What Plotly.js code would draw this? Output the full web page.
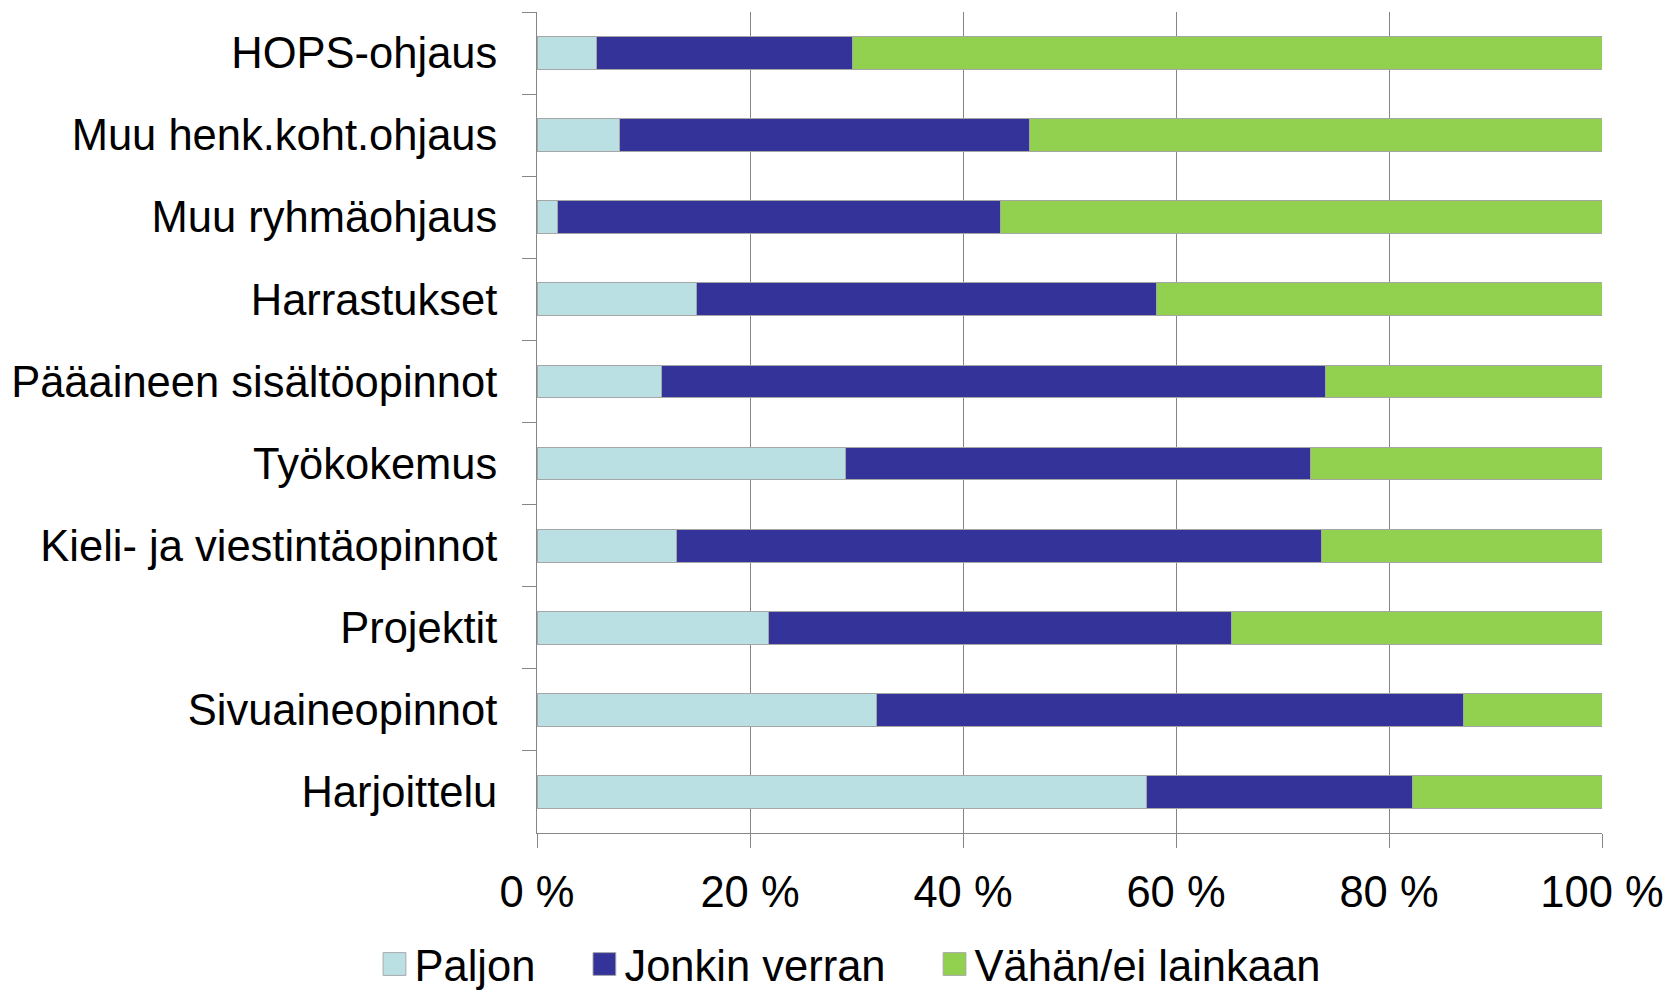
<!DOCTYPE html>
<html>
<head>
<meta charset="utf-8">
<script src="https://cdn.plot.ly/plotly-3.0.1.min.js"></script>
<style>html,body{margin:0;padding:0;background:#fff;}#chart{width:1668px;height:991px;}</style>
</head>
<body>
<div id="chart"></div>
<script>
const categories = ["HOPS-ohjaus","Muu henk.koht.ohjaus","Muu ryhmäohjaus","Harrastukset","Pääaineen sisältöopinnot","Työkokemus","Kieli- ja viestintäopinnot","Projektit","Sivuaineopinnot","Harjoittelu"];
const paljon = [5.6, 7.7, 1.9, 15.0, 11.7, 29.0, 13.1, 21.7, 31.9, 57.2];
const jonkinVerran = [24.0, 38.5, 41.6, 43.2, 62.3, 43.6, 60.6, 43.5, 55.1, 25.0];
const vahanEiLainkaan = [70.4, 53.8, 56.5, 41.8, 26.0, 27.4, 26.3, 34.8, 13.0, 17.8];
const seriesNames = ["Paljon","Jonkin verran","Vähän/ei lainkaan"];
const xTickVals = [0,20,40,60,80,100];
const xTickText = ["0 %","20 %","40 %","60 %","80 %","100 %"];

const colors = ["#bae0e3","#343399","#92d050"];
const vals = [paljon, jonkinVerran, vahanEiLainkaan];
const traces = vals.map((v,i)=>({
  type:"bar", orientation:"h", name:seriesNames[i], x:v, y:categories,
  marker:{color:colors[i], line:{color:"#a6a6a6", width:1}},
  hoverinfo:"x+y+name"
}));
const font = {family:"Liberation Sans, Arial, sans-serif", size:43.5, color:"#000"};
const layout = {
  width:1668, height:991,
  margin:{l:537, r:66, t:12, b:158},
  barmode:"stack", bargap:0.6,
  paper_bgcolor:"#fff", plot_bgcolor:"#fff",
  font:font,
  xaxis:{range:[0,100], tickvals:xTickVals, ticktext:xTickText, showgrid:true, gridcolor:"#868686", gridwidth:1,
    zeroline:false, showline:true, linecolor:"#868686", linewidth:1, ticks:"outside", ticklen:14, tickcolor:"#868686",
    tickfont:font, ticklabelstandoff:7, fixedrange:true},
  yaxis:{type:"category", autorange:"reversed", showgrid:false, zeroline:false, showline:true, linecolor:"#868686", linewidth:1,
    ticks:"outside", tickson:"boundaries", ticklen:14, tickcolor:"#868686", tickfont:font, ticklabelstandoff:30, fixedrange:true},
  legend:{orientation:"h", xref:"container", yref:"container", x:0.2245, xanchor:"left", y:0.027, yanchor:"middle",
    font:font, traceorder:"normal", bgcolor:"rgba(0,0,0,0)"},
  showlegend:true
};
Plotly.newPlot("chart", traces, layout, {displayModeBar:false, staticPlot:true}).then(gd=>{
  // enlarge legend swatches and widen spacing between legend entries
  gd.querySelectorAll('.legend .legendpoints path').forEach(p=>{
    const t = p.getAttribute('transform') || '';
    p.setAttribute('transform', t + ' scale(1.9)');
    p.style.strokeWidth = '0.5px';
  });
  gd.querySelectorAll('.legend .scrollbox').forEach(s=>s.removeAttribute('clip-path'));
  gd.querySelectorAll('.legend .traces').forEach((g,i)=>{
    const t = g.getAttribute('transform') || '';
    const m = t.match(/translate\(\s*([-\d.]+)[ ,]+([-\d.]+)\s*\)/);
    if (m) g.setAttribute('transform', 'translate(' + (parseFloat(m[1]) + i*44) + ',' + m[2] + ')');
  });
});
</script>
</body>
</html>
